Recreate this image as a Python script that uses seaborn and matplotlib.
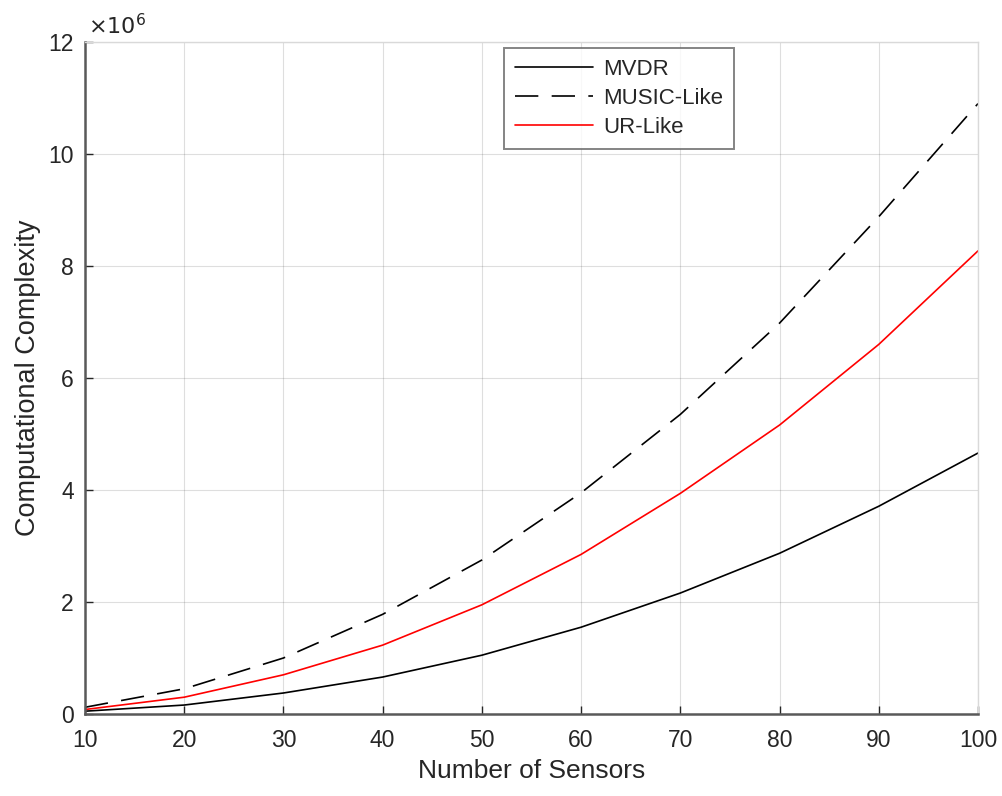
import numpy as np
import pandas as pd
import matplotlib
matplotlib.use("Agg")
import matplotlib.pyplot as plt
import seaborn as sns

sensors = [10, 20, 30, 40, 50, 60, 70, 80, 90, 100]
mvdr = [0.05, 0.16, 0.375, 0.66, 1.05, 1.55, 2.16, 2.87, 3.71, 4.66]
music_like = [0.12, 0.45, 1.0, 1.78, 2.75, 3.95, 5.35, 6.98, 8.88, 10.9]
ur_like = [0.08, 0.30, 0.70, 1.23, 1.95, 2.85, 3.94, 5.16, 6.6, 8.27]
series_names = ["MVDR", "MUSIC-Like", "UR-Like"]
scale = 1e6

rows = []
for name, vals in zip(series_names, [mvdr, music_like, ur_like]):
    for s, v in zip(sensors, vals):
        rows.append({"Sensors": s, "Value": v * scale, "Method": name})
df = pd.DataFrame(rows)

sns.set_theme(style="white")
plt.rcParams['font.family'] = ['Liberation Sans', 'DejaVu Sans']

axc = (0.15, 0.15, 0.15)
fig = plt.figure(figsize=(10.03, 7.96), dpi=100)
ax = fig.add_axes([85/1003, 1 - 714/796, (978-85)/1003, (714-42)/796])

palette = {"MVDR": "black", "MUSIC-Like": "black", "UR-Like": "red"}
dashes = {"MVDR": "", "MUSIC-Like": (14, 8), "UR-Like": ""}
sns.lineplot(data=df, x="Sensors", y="Value", hue="Method", style="Method",
             palette=palette, dashes=dashes, linewidth=1.2, ax=ax,
             hue_order=series_names, style_order=series_names)

ax.set_xlim(10, 100)
ax.set_ylim(0, 12e6)
ax.set_xticks(sensors)
ax.set_yticks(np.arange(0, 13e6, 2e6))
ax.set_yticklabels([str(int(v)) for v in np.arange(0, 13, 2)])
ax.grid(True, color=(0.15, 0.15, 0.15), alpha=0.15, linewidth=0.8)
ax.tick_params(direction="in", length=6, width=1, colors=axc, labelsize=16.5,
               top=False, right=False, bottom=True, left=True)
ax.tick_params(axis="x", pad=11)
ax.tick_params(axis="y", pad=8)
for sp in ax.spines.values():
    sp.set_color((0.35, 0.35, 0.35))
    sp.set_linewidth(1.0)
ax.spines['top'].set_color((0.85, 0.85, 0.85))
ax.spines['right'].set_color((0.85, 0.85, 0.85))
ax.spines['left'].set_linewidth(1.8)
ax.spines['bottom'].set_linewidth(1.8)

ax.set_xlabel("Number of Sensors", fontsize=19, color=axc, labelpad=5)
ax.set_ylabel("Computational Complexity", fontsize=19.5, color=axc, labelpad=5)
ax.text(0.003, 1.004, r"$\times10^{6}$", transform=ax.transAxes, fontsize=16,
        color=axc, ha="left", va="bottom")

leg = ax.legend(loc="upper left", bbox_to_anchor=((504-85)/893, 1 - (48-42)/672),
                fontsize=16, frameon=True, fancybox=False, handlelength=3.5,
                borderpad=0.5, labelspacing=0.36, handletextpad=0.45, borderaxespad=0)
leg.get_frame().set_edgecolor((0.4, 0.4, 0.4))
leg.get_frame().set_linewidth(1.4)
for t in leg.get_texts():
    t.set_color(axc)

fig.savefig("out.png", dpi=100)
